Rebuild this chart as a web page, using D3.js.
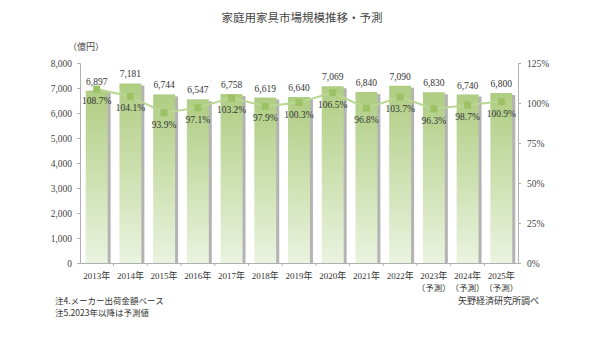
<!DOCTYPE html>
<html>
<head>
<meta charset="utf-8">
<script src="https://cdn.jsdelivr.net/npm/d3@7"></script>
<style>
  html, body { margin: 0; padding: 0; background: #fff; }
  svg { display: block; }
</style>
</head>
<body>
<svg id="chart" width="600" height="342"></svg>
<script>
// Market size (100 million yen) and year-on-year ratio (%)
const years = ["2013年", "2014年", "2015年", "2016年", "2017年", "2018年", "2019年",
               "2020年", "2021年", "2022年", "2023年", "2024年", "2025年"];
const forecastFlags = [false, false, false, false, false, false, false,
                       false, false, false, true, true, true];
const marketSize = [6897, 7181, 6744, 6547, 6758, 6619, 6640, 7069, 6840, 7090, 6830, 6740, 6800];
const yoyRatio = [108.7, 104.1, 93.9, 97.1, 103.2, 97.9, 100.3, 106.5, 96.8, 103.7, 96.3, 98.7, 100.9];
const leftTicks = [0, 1000, 2000, 3000, 4000, 5000, 6000, 7000, 8000];
const rightTicks = [0, 25, 50, 75, 100, 125];

const svg = d3.select("#chart");
const serif = "'Liberation Serif', 'Noto Sans CJK JP', serif";
const jp = "'Noto Sans CJK JP', sans-serif";

const plot = { left: 80, right: 518, top: 63, bottom: 263 };

const x = d3.scaleBand().domain(years).range([plot.left, plot.right]).paddingInner(0.35).paddingOuter(0.17);
const yL = d3.scaleLinear().domain([0, 8000]).range([plot.bottom, plot.top]);
const yR = d3.scaleLinear().domain([0, 125]).range([plot.bottom, plot.top]);

// Gradient fill for bars
const defs = svg.append("defs");
const grad = defs.append("linearGradient").attr("id", "barGrad")
  .attr("x1", 0).attr("y1", 0).attr("x2", 0).attr("y2", 1);
grad.append("stop").attr("offset", "0%").attr("stop-color", "#afcd82");
grad.append("stop").attr("offset", "100%").attr("stop-color", "#eaf3df");

// Title
svg.append("text").attr("x", 302).attr("y", 22).attr("text-anchor", "middle")
  .attr("font-family", jp).attr("font-size", 11.5).attr("fill", "#444")
  .text("家庭用家具市場規模推移・予測");

// Unit label
svg.append("text").attr("x", 68).attr("y", 50)
  .attr("font-family", jp).attr("font-size", 9).attr("fill", "#444")
  .text("（億円）");

// Left axis
const axL = svg.append("g").attr("transform", `translate(${plot.left},0)`)
  .call(d3.axisLeft(yL).tickValues(leftTicks).tickSize(3).tickFormat(d3.format(",")));
axL.select(".domain").attr("stroke", "#b0b0b0");
axL.selectAll(".tick line").attr("stroke", "#b0b0b0");
axL.selectAll("text").attr("font-family", serif).attr("font-size", 9.5).attr("fill", "#444").attr("dx", -2);

// Right axis
const axR = svg.append("g").attr("transform", `translate(${plot.right},0)`)
  .call(d3.axisRight(yR).tickValues(rightTicks).tickSize(3).tickFormat(d => d + "%"));
axR.select(".domain").attr("stroke", "#b0b0b0");
axR.selectAll(".tick line").attr("stroke", "#b0b0b0");
axR.selectAll("text").attr("font-family", serif).attr("font-size", 9.5).attr("fill", "#444").attr("dx", 3);

// Bottom baseline with category ticks
const axB = svg.append("g").attr("transform", `translate(0,${plot.bottom})`)
  .call(d3.axisBottom(x).tickSize(0).tickFormat(""));
axB.select(".domain").attr("stroke", "#b0b0b0");
const step = x.step();
svg.append("g").selectAll("line").data(years.slice(1)).join("line")
  .attr("x1", d => x(d) - (step - x.bandwidth()) / 2).attr("x2", d => x(d) - (step - x.bandwidth()) / 2)
  .attr("y1", plot.bottom).attr("y2", plot.bottom + 3).attr("stroke", "#b0b0b0");

// Bar shadows
svg.append("g").selectAll("rect").data(marketSize).join("rect")
  .attr("x", (d, i) => x(years[i]) + 3)
  .attr("y", d => yL(d) + 2)
  .attr("width", x.bandwidth())
  .attr("height", d => plot.bottom - yL(d) - 2)
  .attr("fill", "#b3b3b3");

// Bars
svg.append("g").selectAll("rect").data(marketSize).join("rect")
  .attr("x", (d, i) => x(years[i]))
  .attr("y", d => yL(d))
  .attr("width", x.bandwidth())
  .attr("height", d => plot.bottom - yL(d))
  .attr("fill", "url(#barGrad)");

// Bar value labels
svg.append("g").selectAll("text").data(marketSize).join("text")
  .attr("x", (d, i) => x(years[i]) + x.bandwidth() / 2)
  .attr("y", d => yL(d) - 6)
  .attr("text-anchor", "middle")
  .attr("font-family", serif).attr("font-size", 9.5).attr("fill", "#333")
  .text(d => d3.format(",")(d));

// Year-on-year line
const cx = i => x(years[i]) + x.bandwidth() / 2;
const line = d3.line().x((d, i) => cx(i)).y(d => yR(d));
svg.append("path").datum(yoyRatio).attr("d", line)
  .attr("fill", "none").attr("stroke", "#b8d792").attr("stroke-width", 2);

svg.append("g").selectAll("rect").data(yoyRatio).join("rect")
  .attr("x", (d, i) => cx(i) - 3.5).attr("y", d => yR(d) - 3.5)
  .attr("width", 7).attr("height", 7).attr("fill", "#9dc266");

svg.append("g").selectAll("text").data(yoyRatio).join("text")
  .attr("x", (d, i) => cx(i))
  .attr("y", d => yR(d) + 15)
  .attr("text-anchor", "middle")
  .attr("font-family", serif).attr("font-size", 9.5).attr("fill", "#333")
  .text(d => d.toFixed(1) + "%");

// Category labels
const xl = svg.append("g").selectAll("g").data(years).join("g");
xl.append("text")
  .attr("x", d => x(d) + x.bandwidth() / 2).attr("y", 279)
  .attr("text-anchor", "middle").attr("font-family", serif).attr("font-size", 9).attr("fill", "#333")
  .text(d => d);
xl.filter((d, i) => forecastFlags[i]).append("text")
  .attr("x", d => x(d) + x.bandwidth() / 2).attr("y", 291)
  .attr("text-anchor", "middle").attr("font-family", jp).attr("font-size", 8.5).attr("fill", "#333")
  .text("（予測）");

// Notes and source
svg.append("text").attr("x", 55).attr("y", 304).attr("font-family", jp).attr("font-size", 8.5).attr("fill", "#333")
  .text("注4.メーカー出荷金額ベース");
svg.append("text").attr("x", 55).attr("y", 316).attr("font-family", jp).attr("font-size", 8.5).attr("fill", "#333")
  .text("注5.2023年以降は予測値");
svg.append("text").attr("x", 539).attr("y", 304).attr("text-anchor", "end").attr("font-family", jp).attr("font-size", 9).attr("fill", "#333")
  .text("矢野経済研究所調べ");
</script>
</body>
</html>
